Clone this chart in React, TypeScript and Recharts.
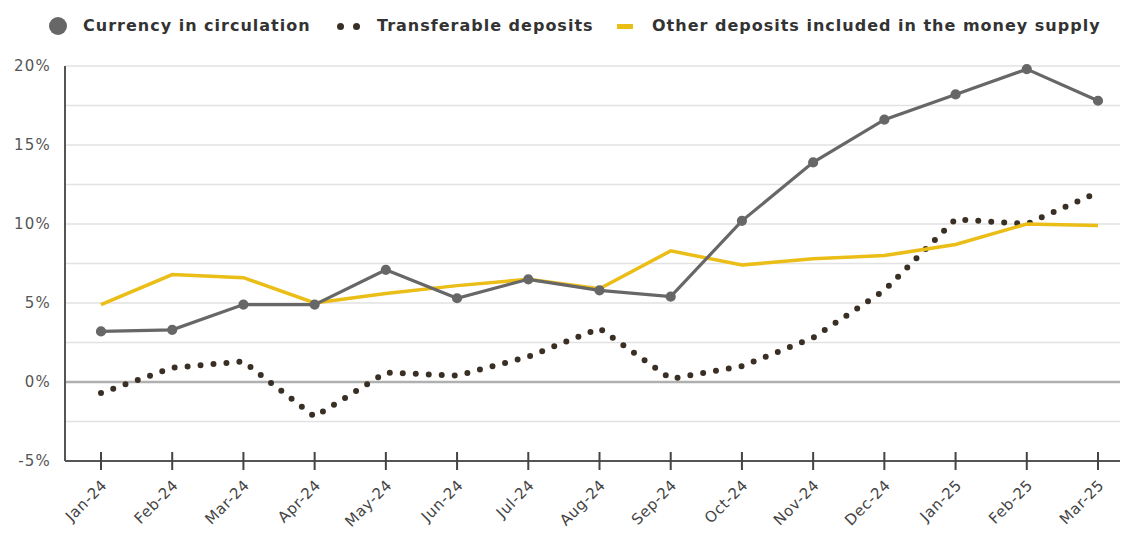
import { LineChart, Line, XAxis, YAxis, CartesianGrid, ReferenceLine } from "recharts";

const months = ["Jan-24", "Feb-24", "Mar-24", "Apr-24", "May-24", "Jun-24", "Jul-24", "Aug-24", "Sep-24", "Oct-24", "Nov-24", "Dec-24", "Jan-25", "Feb-25", "Mar-25"];
const currency = [3.2, 3.3, 4.9, 4.9, 7.1, 5.3, 6.5, 5.8, 5.4, 10.2, 13.9, 16.6, 18.2, 19.8, 17.8];
const transferable = [-0.7, 0.9, 1.3, -2.2, 0.6, 0.4, 1.6, 3.4, 0.2, 1.0, 2.8, 5.8, 10.3, 10.0, 12.0];
const otherDeposits = [4.9, 6.8, 6.6, 5.0, 5.6, 6.1, 6.5, 5.9, 8.3, 7.4, 7.8, 8.0, 8.7, 10.0, 9.9];
const yTicks = [-5, -2.5, 0, 2.5, 5, 7.5, 10, 12.5, 15, 17.5, 20];

const FONT = "'DejaVu Sans', sans-serif";
const GRAY = "#676767";
const DOTS = "#3a2f25";
const YELLOW = "#ebbd17";

const data = months.map((m, i) => ({
  month: m,
  currency: currency[i],
  transferable: transferable[i],
  other: otherDeposits[i],
}));

function MonthTick(props: any) {
  const { x, y, payload } = props;
  return (
    <g>
      <line x1={x} x2={x} y1={y - 9} y2={y + 9} stroke="#444" strokeWidth={2} />
      <text
        x={x + 7}
        y={y + 25}
        textAnchor="end"
        transform={`rotate(-45 ${x + 7} ${y + 25})`}
        fontFamily={FONT}
        fontSize={15}
        letterSpacing={0.6}
        fill="#444"
      >
        {payload.value}
      </text>
    </g>
  );
}

const labelStyle: React.CSSProperties = {
  position: "absolute",
  top: 16,
  fontFamily: FONT,
  fontWeight: "bold",
  fontSize: 16,
  letterSpacing: 1,
  color: "#333",
  whiteSpace: "nowrap",
  lineHeight: "20px",
};

export default function App() {
  return (
    <div style={{ position: "absolute", left: 0, top: 0, width: 1122, height: 536, background: "#fff" }}>
      <div style={{ position: "absolute", left: 49, top: 17, width: 18, height: 18, borderRadius: 9, background: GRAY }} />
      <div style={{ ...labelStyle, left: 83 }}>Currency in circulation</div>
      <div style={{ position: "absolute", left: 337, top: 23, width: 7, height: 7, borderRadius: 3.5, background: DOTS }} />
      <div style={{ position: "absolute", left: 353, top: 23, width: 7, height: 7, borderRadius: 3.5, background: DOTS }} />
      <div style={{ ...labelStyle, left: 377 }}>Transferable deposits</div>
      <div style={{ position: "absolute", left: 617, top: 24, width: 16, height: 5, background: YELLOW }} />
      <div style={{ ...labelStyle, left: 652 }}>Other deposits included in the money supply</div>

      <LineChart width={1122} height={536} data={data} margin={{ top: 66, right: 2, left: 0, bottom: 5 }}>
        <CartesianGrid vertical={false} stroke="#e2e2e2" strokeWidth={1.5} />
        <XAxis
          dataKey="month"
          type="category"
          padding={{ left: 36, right: 22 }}
          scale="point"
          height={70}
          interval={0}
          tickLine={false}
          tickSize={0}
          tickMargin={0}
          axisLine={{ stroke: "#555", strokeWidth: 2 }}
          tick={<MonthTick />}
        />
        <YAxis
          domain={[-5, 20]}
          ticks={yTicks}
          width={65}
          interval={0}
          tickLine={false}
          axisLine={{ stroke: "#555", strokeWidth: 2 }}
          tickFormatter={(v: number) => (v % 5 === 0 ? `${v}%` : "")}
          tick={{ fontFamily: FONT, fontSize: 15, fill: "#555", letterSpacing: 1.2 }}
          tickMargin={8}
        />
        <ReferenceLine y={0} stroke="#b0b0b0" strokeWidth={2.5} />
        <Line
          dataKey="transferable"
          stroke={DOTS}
          strokeWidth={6}
          strokeDasharray="0 13"
          strokeLinecap="round"
          dot={false}
          isAnimationActive={false}
        />
        <Line dataKey="other" stroke={YELLOW} strokeWidth={3.5} dot={false} isAnimationActive={false} />
        <Line
          dataKey="currency"
          stroke={GRAY}
          strokeWidth={3.2}
          dot={{ r: 3.5, fill: GRAY, stroke: GRAY }}
          isAnimationActive={false}
        />
      </LineChart>
    </div>
  );
}
